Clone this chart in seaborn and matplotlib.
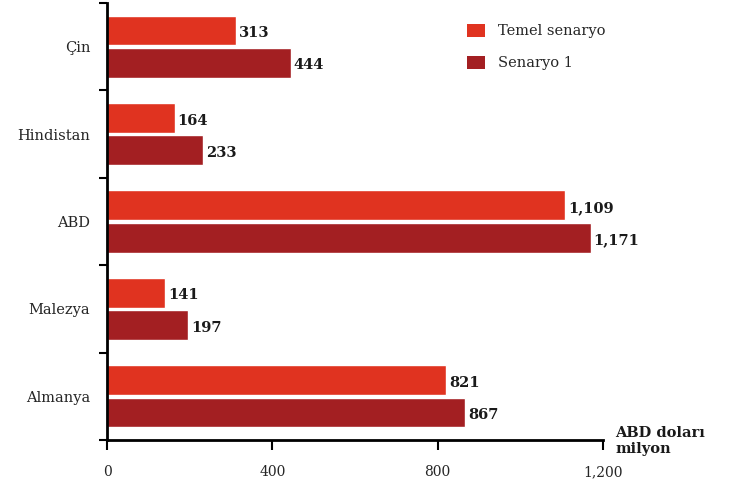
import matplotlib
matplotlib.use("Agg")
import matplotlib.pyplot as plt
from matplotlib.patches import Patch
import seaborn as sns
import pandas as pd
import numpy as np

countries = ["Çin", "Hindistan", "ABD", "Malezya", "Almanya"]
baseline = [313, 164, 1109, 141, 821]
scenario1 = [444, 233, 1171, 197, 867]
series_names = ["Temel senaryo", "Senaryo 1"]
x_ticks = [0, 400, 800, 1200]
colors = ["#E03320", "#A31F22"]

df = pd.DataFrame({
    "country": countries * 2,
    "value": baseline + scenario1,
    "series": [series_names[0]] * len(countries) + [series_names[1]] * len(countries),
})

sns.set_theme(style="white")
plt.rcParams["font.family"] = ["DejaVu Serif"]

fig = plt.figure(figsize=(7.33, 4.84), dpi=100)
ax = fig.add_axes([107 / 733, 1 - 440 / 484, 496 / 733, 437 / 484])

sns.barplot(data=df, y="country", x="value", hue="series", order=countries,
            hue_order=series_names, palette=colors, orient="h",
            width=0.74, gap=0.08, ax=ax, legend=False, saturation=1)

# value labels at bar ends
for cont in ax.containers:
    for bar in cont:
        w = bar.get_width()
        ax.text(w + 6, bar.get_y() + bar.get_height() / 2 + 0.03, f"{w:,.0f}",
                ha="left", va="center", fontsize=10.5, fontweight="bold",
                color="#1a1a1a")

ax.set_xlim(0, 1200)
ax.set_ylim(len(countries) - 0.5, -0.5)
ax.set_xticks(x_ticks)
ax.set_xticklabels([f"{t:,}" for t in x_ticks], fontsize=10)
ax.set_xlabel("")
ax.set_ylabel("")

# category labels without ticks, separator ticks between groups
ax.set_yticks(range(len(countries)))
ax.set_yticklabels(countries, fontsize=10.5)
ax.tick_params(axis="y", which="major", length=0, pad=12)
ax.set_yticks(np.arange(-0.5, len(countries), 1.0), minor=True)
ax.tick_params(axis="y", which="minor", left=True, length=6, width=1.5, color="black")
ax.tick_params(axis="x", which="major", bottom=True, length=7, width=1.5,
               color="black", pad=11)

for side in ["top", "right"]:
    ax.spines[side].set_visible(False)
for side in ["left", "bottom"]:
    ax.spines[side].set_color("black")
    ax.spines[side].set_linewidth(2)

handles = [Patch(facecolor=c, edgecolor="none") for c in colors]
leg = fig.legend(handles, series_names, loc="upper left",
                 bbox_to_anchor=(454 / 733, 1 - 11 / 484), frameon=False,
                 fontsize=10.5, handlelength=1.2, handleheight=0.95,
                 labelspacing=1.2, handletextpad=0.9)

fig.text(615 / 733, 1 - 441 / 484, "ABD doları\nmilyon", ha="left", va="center",
         fontsize=10.5, fontweight="bold", linespacing=1.15, color="#1a1a1a")

fig.savefig("out.png", dpi=100, facecolor="white")
